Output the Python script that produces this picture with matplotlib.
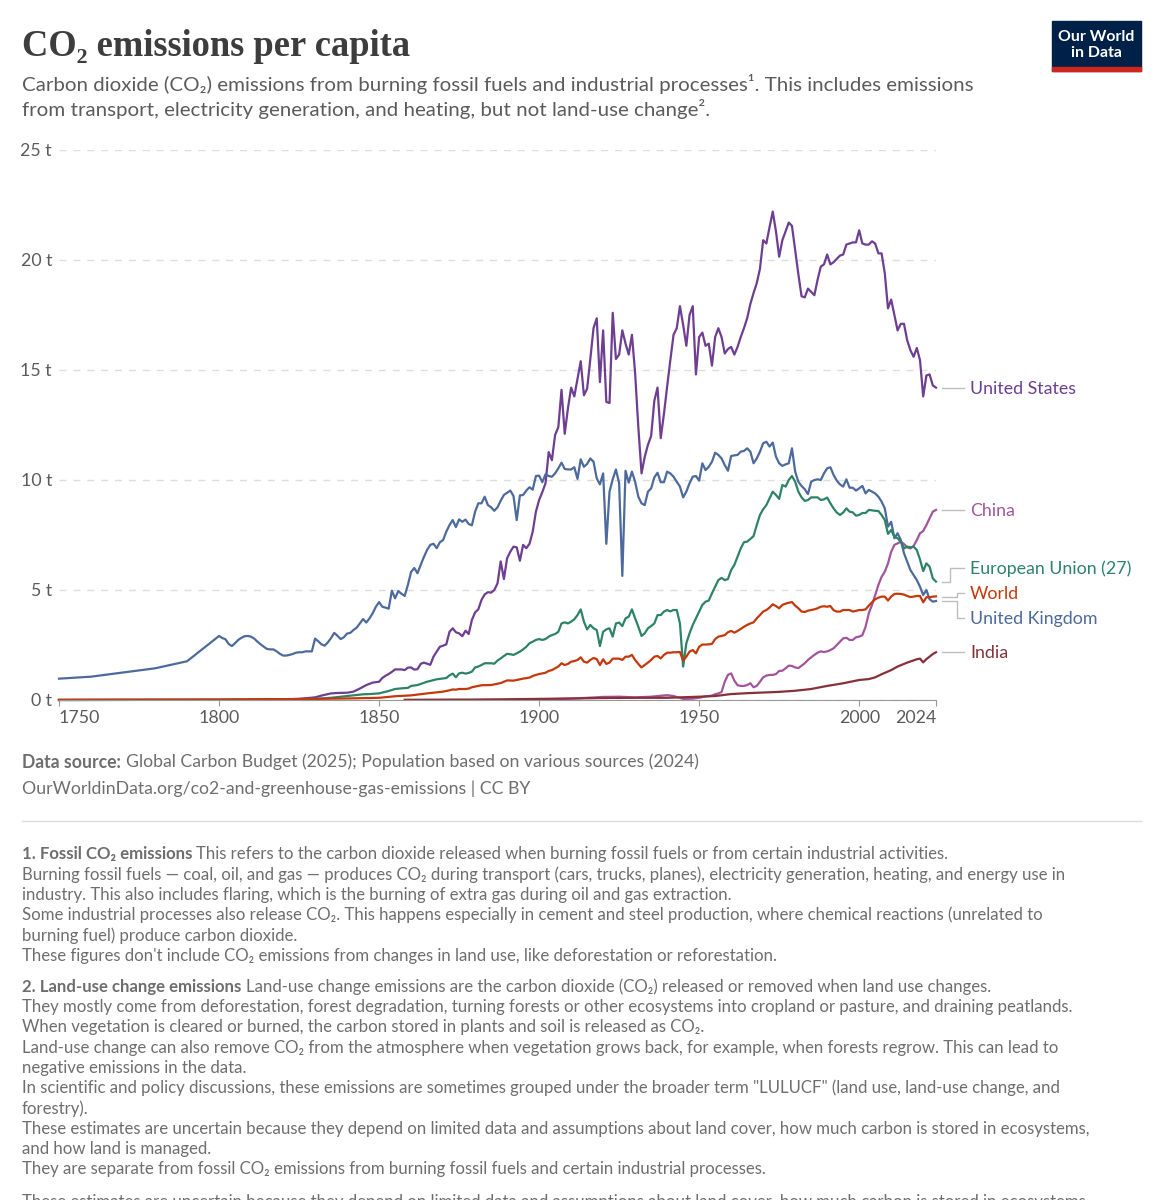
import numpy as np
import matplotlib
matplotlib.use('Agg')
import matplotlib.pyplot as plt

plt.rcParams['font.family'] = ['Lato', 'DejaVu Sans']

W, H = 1163, 1200

# t CO2 per person
uk_years = [1750, 1760, 1770, 1780, 1790] + list(range(1800, 2025))
uk = [0.97, 1.06, 1.25, 1.44, 1.76,
      2.91, 2.82, 2.76, 2.55, 2.45, 2.58, 2.73, 2.83, 2.9, 2.91,
      2.88, 2.79, 2.65, 2.53, 2.42, 2.32, 2.3, 2.3, 2.21, 2.1,
      2.02, 2.02, 2.05, 2.09, 2.15, 2.17, 2.17, 2.21, 2.21, 2.21,
      2.79, 2.67, 2.53, 2.47, 2.62, 2.82, 3.05, 2.92, 2.77, 2.85,
      3.02, 3.05, 3.18, 3.29, 3.48, 3.68, 3.52, 3.71, 3.94, 4.24,
      4.45, 4.24, 4.2, 4.15, 4.97, 4.62, 4.95, 4.83, 4.73, 5.23,
      5.82, 6.0, 5.76, 6.14, 6.5, 6.82, 7.05, 7.1, 6.9, 7.17,
      7.27, 7.65, 7.95, 8.18, 7.86, 8.21, 8.1, 8.2, 8.0, 7.94,
      8.56, 8.94, 8.94, 9.24, 8.86, 8.76, 8.6, 8.76, 9.06, 9.32,
      9.42, 9.52, 9.27, 8.18, 9.3, 9.32, 9.52, 9.67, 9.56, 10.18,
      10.2, 9.9, 10.26, 10.18, 10.15, 10.3, 10.53, 10.79, 10.5, 10.48,
      10.48, 10.58, 10.05, 10.94, 10.6, 10.73, 10.98, 10.83, 10.08, 9.8,
      10.3, 7.1, 9.47, 10.03, 10.48, 9.85, 5.64, 10.42, 9.88, 10.38,
      9.92, 9.24, 8.94, 8.86, 9.47, 9.62, 10.12, 10.33, 9.9, 9.9,
      10.38, 10.3, 10.15, 9.92, 9.7, 9.21, 9.47, 9.85, 10.15, 10.18,
      9.97, 10.76, 10.45, 10.6, 10.83, 11.24, 11.14, 10.98, 10.68, 10.42,
      11.09, 11.12, 11.14, 11.29, 11.32, 11.44, 11.29, 10.76, 10.98, 11.29,
      11.67, 11.74, 11.52, 11.7, 11.06, 10.76, 10.64, 10.71, 10.76, 11.44,
      10.38, 9.92, 9.73, 9.58, 9.36, 9.92, 10.0, 10.03, 10.0, 10.3,
      10.53, 10.58, 10.23, 9.97, 9.8, 9.7, 10.03, 9.65, 9.65, 9.52,
      9.62, 9.73, 9.39, 9.55, 9.47, 9.39, 9.24, 9.02, 8.71, 7.88,
      8.1, 7.35, 7.58, 7.27, 6.67, 6.29, 5.91, 5.68, 5.45, 5.15,
      4.77, 5.0, 4.58, 4.47, 4.5]

us_years = [1750, 1800, 1820, 1825, 1830, 1832, 1835, 1837, 1840, 1842, 1844, 1846, 1848] + list(range(1850, 2025))
us = [0.0, 0.01, 0.03, 0.05, 0.12, 0.2, 0.3, 0.32, 0.33, 0.38, 0.52, 0.68, 0.79,
      0.83, 1.0, 1.1, 1.18, 1.28, 1.39, 1.39, 1.39, 1.36, 1.47,
      1.48, 1.38, 1.4, 1.64, 1.7, 1.65, 1.6, 1.97, 2.2, 2.42,
      2.47, 2.53, 3.1, 3.26, 3.08, 3.03, 2.9, 3.15, 3.0, 3.64,
      3.98, 4.12, 4.55, 4.8, 4.9, 4.88, 5.0, 5.3, 6.3, 5.5,
      6.44, 6.74, 6.97, 6.94, 6.33, 7.05, 6.9, 7.1, 7.65, 8.56,
      9.09, 9.45, 9.85, 11.27, 10.9, 12.05, 12.4, 14.1, 12.1, 13.25,
      14.2, 13.8, 14.6, 15.4, 13.85, 14.15, 15.5, 16.9, 17.35, 14.45,
      16.8, 13.55, 13.5, 17.6, 15.5, 15.7, 16.8, 16.2, 15.7, 16.6,
      14.85, 12.4, 10.3, 11.05, 11.6, 12.0, 13.6, 14.2, 11.9, 13.0,
      14.25, 15.45, 16.6, 16.9, 17.9, 17.05, 16.1, 17.5, 17.9, 14.8,
      16.5, 16.7, 16.1, 16.2, 15.2, 16.5, 16.9, 16.5, 15.75, 15.95,
      16.05, 15.7, 16.05, 16.5, 16.9, 17.35, 18.0, 18.5, 18.95, 19.6,
      20.9, 20.75, 21.5, 22.2, 21.3, 20.15, 20.9, 21.3, 21.7, 21.55,
      20.45, 19.35, 18.35, 18.3, 18.7, 18.55, 18.4, 19.1, 19.7, 19.8,
      20.25, 19.8, 19.9, 20.05, 20.2, 20.25, 20.7, 20.75, 20.8, 20.8,
      21.35, 20.75, 20.7, 20.7, 20.85, 20.75, 20.3, 20.3, 19.4, 17.8,
      18.2, 17.5, 16.8, 17.1, 17.1, 16.35, 15.9, 15.6, 16.0, 15.45,
      13.8, 14.75, 14.8, 14.3, 14.2]

eu_years = [1750, 1800, 1830, 1835, 1840, 1845, 1847, 1850, 1853, 1855, 1857, 1859, 1860, 1862,
            1865, 1868, 1870] + list(range(1871, 2025))
eu = [0.0, 0.01, 0.05, 0.1, 0.18, 0.26, 0.27, 0.3, 0.41, 0.5, 0.53, 0.55, 0.64, 0.68,
      0.83, 0.94, 0.98,
      1.0, 1.12, 1.2, 1.03, 1.21, 1.24, 1.2, 1.23, 1.29,
      1.48, 1.52, 1.59, 1.67, 1.67, 1.67, 1.65, 1.79, 1.89, 2.0,
      2.1, 2.08, 2.05, 2.12, 2.2, 2.3, 2.42, 2.58, 2.65, 2.73,
      2.77, 2.73, 2.77, 2.88, 2.95, 3.0, 3.1, 3.48, 3.53, 3.48,
      3.56, 3.67, 3.86, 4.12, 3.56, 3.21, 3.41, 3.26, 3.18, 2.45,
      3.1, 3.21, 3.26, 2.88, 3.48, 3.52, 3.36, 3.71, 3.79, 4.12,
      3.71, 3.33, 2.91, 3.03, 3.26, 3.36, 3.48, 3.86, 3.86, 4.02,
      4.09, 4.03, 4.09, 4.09, 3.48, 1.52, 2.58, 3.03, 3.41, 3.71,
      4.02, 4.32, 4.47, 4.52, 4.85, 5.15, 5.45, 5.55, 5.45, 5.5,
      5.91, 6.14, 6.52, 6.89, 7.17, 7.2, 7.32, 7.45, 7.95, 8.41,
      8.67, 8.86, 9.17, 9.47, 9.32, 9.14, 9.77, 9.7, 10.0, 10.18,
      9.92, 9.47, 9.21, 9.05, 9.09, 9.21, 9.21, 9.21, 9.09, 9.12,
      9.2, 8.94, 8.71, 8.52, 8.41, 8.52, 8.71, 8.56, 8.53, 8.38,
      8.41, 8.5, 8.5, 8.64, 8.62, 8.6, 8.59, 8.41, 8.18, 7.55,
      7.73, 7.42, 7.35, 7.2, 6.89, 6.97, 6.94, 6.97, 6.82, 6.39,
      5.86, 6.21, 6.06, 5.53, 5.38]

world_years = [1750, 1800, 1820, 1830, 1840, 1850, 1855, 1860, 1865, 1870, 1872, 1873, 1874, 1875, 1877,
               1878, 1879, 1880, 1882, 1885, 1887, 1888, 1890, 1892, 1895, 1897, 1898, 1899] + list(range(1900, 2025))
world = [0.01, 0.02, 0.04, 0.05, 0.07, 0.1, 0.17, 0.21, 0.3, 0.38, 0.44, 0.48, 0.47, 0.5, 0.5,
         0.52, 0.58, 0.61, 0.67, 0.68, 0.74, 0.77, 0.89, 0.88, 0.97, 1.02, 1.09, 1.14,
         1.18, 1.21, 1.24, 1.32, 1.36, 1.44, 1.52, 1.67, 1.59, 1.64,
         1.74, 1.77, 1.82, 1.94, 1.74, 1.7, 1.82, 1.91, 1.86, 1.59,
         1.85, 1.64, 1.7, 1.88, 1.88, 1.88, 1.82, 1.97, 1.97, 2.05,
         1.82, 1.64, 1.48, 1.59, 1.7, 1.82, 1.97, 2.0, 1.89, 2.05,
         2.15, 2.15, 2.17, 2.17, 2.18, 1.79, 1.97, 2.2, 2.27, 2.12,
         2.42, 2.52, 2.52, 2.53, 2.55, 2.77, 2.88, 2.91, 2.95, 3.08,
         3.14, 3.06, 3.14, 3.23, 3.33, 3.41, 3.48, 3.53, 3.71, 3.86,
         4.02, 4.09, 4.2, 4.35, 4.27, 4.17, 4.32, 4.38, 4.42, 4.45,
         4.29, 4.17, 4.02, 4.0, 4.06, 4.09, 4.12, 4.17, 4.24, 4.26,
         4.24, 4.27, 4.08, 4.02, 4.02, 4.09, 4.09, 4.09, 4.02, 4.05,
         4.09, 4.09, 4.12, 4.29, 4.44, 4.58, 4.65, 4.7, 4.7, 4.52,
         4.7, 4.82, 4.83, 4.82, 4.79, 4.73, 4.68, 4.7, 4.73, 4.73,
         4.44, 4.67, 4.67, 4.7, 4.71]

china_years = [1899, 1910, 1920, 1925, 1930, 1935, 1940, 1942, 1945, 1948] + list(range(1950, 2025))
china = [0.02, 0.06, 0.14, 0.15, 0.12, 0.15, 0.22, 0.18, 0.05, 0.06,
         0.1, 0.13, 0.17, 0.18, 0.2, 0.26, 0.3, 0.36, 0.83, 1.14,
         1.21, 0.88, 0.67, 0.64, 0.64, 0.68, 0.76, 0.58, 0.64, 0.83,
         1.03, 1.11, 1.14, 1.14, 1.18, 1.32, 1.33, 1.44, 1.56, 1.55,
         1.48, 1.45, 1.56, 1.67, 1.82, 1.94, 2.05, 2.15, 2.21, 2.18,
         2.21, 2.27, 2.35, 2.5, 2.65, 2.8, 2.83, 2.73, 2.73, 2.85,
         2.88, 2.95, 3.33, 3.94, 4.32, 4.77, 5.23, 5.6, 5.83, 6.21,
         6.74, 7.05, 7.12, 7.2, 7.09, 6.94, 6.89, 7.0, 7.27, 7.58,
         7.68, 7.95, 8.26, 8.56, 8.64]

india_years = [1858, 1880, 1900, 1920, 1930, 1940, 1950, 1955, 1960, 1965, 1970, 1975, 1980, 1985, 1990,
               1995, 2000, 2003, 2005, 2007, 2010, 2012, 2015, 2018, 2019, 2020, 2021, 2022, 2023, 2024]
india = [0.01, 0.02, 0.05, 0.09, 0.1, 0.1, 0.15, 0.18, 0.27, 0.31, 0.34, 0.37, 0.42, 0.5, 0.64,
         0.76, 0.91, 0.95, 1.03, 1.17, 1.36, 1.52, 1.7, 1.85, 1.88, 1.71, 1.86, 1.97, 2.09, 2.17]

y_ticks = [0, 5, 10, 15, 20, 25]
x_ticks = [1750, 1800, 1850, 1900, 1950, 2000, 2024]

C_US = '#6d3e91'
C_UK = '#4c6a9c'
C_EU = '#2c8465'
C_WORLD = '#c4380b'
C_CHINA = '#a2559c'
C_INDIA = '#883039'
GRAY = '#5b5b5b'
NOTE = '#6e6e6e'
LABEL = 12.75
FOOT = 12.1


def fx(x):
    return x / W


def fy(y):
    return 1 - y / H


def txt(x, y, s, size, color=GRAY, **kw):
    kw.setdefault('va', 'center')
    return fig.text(fx(x), fy(y), s, fontsize=size, color=color, **kw)


def connector(xs, ys):
    fig.add_artist(plt.Line2D([fx(x) for x in xs], [fy(y) for y in ys], color='#bdbdbd', lw=1.0))


fig = plt.figure(figsize=(W / 100, H / 100), dpi=100, facecolor='white')
ax = fig.add_axes([fx(59), fy(700), (936 - 59) / W, 550 / H])
ax.set_xlim(1750, 2024)
ax.set_ylim(0, 25)
for s in ['top', 'right', 'left']:
    ax.spines[s].set_visible(False)
ax.spines['bottom'].set_color('#999999')
ax.set_yticks(y_ticks)
ax.set_yticklabels([f'{v} t' for v in y_ticks], fontsize=LABEL, color=GRAY)
ax.tick_params(axis='y', length=0, pad=5)
ax.grid(axis='y', color='#dddddd', lw=1.0, ls=(0, (5, 5)))
ax.set_axisbelow(True)
ax.set_xticks(x_ticks)
ax.set_xticklabels(x_ticks, fontsize=LABEL, color=GRAY)
ax.tick_params(axis='x', length=4, color='#999999', pad=3.5)
labels = ax.get_xticklabels()
labels[0].set_ha('left')
labels[-1].set_ha('right')

for xs, ys, c in [(china_years, china, C_CHINA), (india_years, india, C_INDIA), (us_years, us, C_US),
                  (uk_years, uk, C_UK), (eu_years, eu, C_EU), (world_years, world, C_WORLD)]:
    ax.plot(xs, ys, color=c, lw=1.6, clip_on=False, solid_joinstyle='round')

# series labels
connector([942, 964], [388, 388])
connector([942, 964], [510, 510])
connector([942, 950, 950, 964], [582, 582, 568, 568])
connector([942, 957, 957, 964], [597, 597, 593, 593])
connector([942, 957, 957, 964], [601, 601, 618, 618])
connector([942, 964], [652, 652])
txt(970, 389, 'United States', LABEL, C_US)
txt(970, 511, 'China', LABEL, C_CHINA)
txt(970, 569, 'European Union (27)', LABEL, C_EU)
txt(970, 594, 'World', LABEL, C_WORLD)
txt(970, 619, 'United Kingdom', LABEL, C_UK)
txt(970, 653, 'India', LABEL, C_INDIA)

# header
fig.text(fx(22), fy(46), 'CO₂ emissions per capita', fontsize=26.3, color='#3d3d3d', va='center',
         family=['Liberation Serif', 'DejaVu Serif'], weight='bold')
txt(22, 84, 'Carbon dioxide (CO₂) emissions from burning fossil fuels and industrial processes¹. This includes emissions', 14.74)
txt(22, 109, 'from transport, electricity generation, and heating, but not land-use change².', 14.74)

# logo
fig.add_artist(plt.Rectangle((fx(1052), fy(71)), 89 / W, 50 / H, color='#002147', transform=fig.transFigure))
fig.add_artist(plt.Rectangle((fx(1052), fy(71)), 89 / W, 4 / H, color='#ce261e', transform=fig.transFigure))
txt(1096.5, 37, 'Our World', 11.4, 'white', ha='center', weight='bold')
txt(1096.5, 53, 'in Data', 11.4, 'white', ha='center', weight='bold')

# source
txt(22, 762, 'Data source:', 12.7, NOTE, weight='bold')
txt(126, 762, 'Global Carbon Budget (2025); Population based on various sources (2024)', 12.7, NOTE)
txt(22, 789, 'OurWorldinData.org/co2-and-greenhouse-gas-emissions | CC BY', 12.7, NOTE)
fig.add_artist(plt.Line2D([fx(22), fx(1141)], [fy(821), fy(821)], color='#dddddd', lw=1.0))

# footnotes
txt(22, 854, '1. Fossil CO₂ emissions', FOOT, NOTE, weight='bold')
txt(196, 854, 'This refers to the carbon dioxide released when burning fossil fuels or from certain industrial activities.', FOOT, NOTE)
notes1 = ['Burning fossil fuels — coal, oil, and gas — produces CO₂ during transport (cars, trucks, planes), electricity generation, heating, and energy use in',
          'industry. This also includes flaring, which is the burning of extra gas during oil and gas extraction.',
          'Some industrial processes also release CO₂. This happens especially in cement and steel production, where chemical reactions (unrelated to',
          'burning fuel) produce carbon dioxide.',
          "These figures don't include CO₂ emissions from changes in land use, like deforestation or reforestation."]
for i, line in enumerate(notes1):
    txt(22, 874.5 + i * 20.3, line, FOOT, NOTE)

txt(22, 987, '2. Land-use change emissions', FOOT, NOTE, weight='bold')
txt(246, 987, 'Land-use change emissions are the carbon dioxide (CO₂) released or removed when land use changes.', FOOT, NOTE)
notes2 = ['They mostly come from deforestation, forest degradation, turning forests or other ecosystems into cropland or pasture, and draining peatlands.',
          'When vegetation is cleared or burned, the carbon stored in plants and soil is released as CO₂.',
          'Land-use change can also remove CO₂ from the atmosphere when vegetation grows back, for example, when forests regrow. This can lead to',
          'negative emissions in the data.',
          'In scientific and policy discussions, these emissions are sometimes grouped under the broader term "LULUCF" (land use, land-use change, and',
          'forestry).',
          'These estimates are uncertain because they depend on limited data and assumptions about land cover, how much carbon is stored in ecosystems,',
          'and how land is managed.',
          'They are separate from fossil CO₂ emissions from burning fossil fuels and certain industrial processes.']
for i, line in enumerate(notes2):
    txt(22, 1007 + i * 20.3, line, FOOT, NOTE)

# next paragraph, cut off by the bottom edge in the reference
txt(22, 1202, 'These estimates are uncertain because they depend on limited data and assumptions about land cover, how much carbon is stored in ecosystems,', FOOT, NOTE)

fig.savefig('out.png', dpi=100, facecolor='white')
